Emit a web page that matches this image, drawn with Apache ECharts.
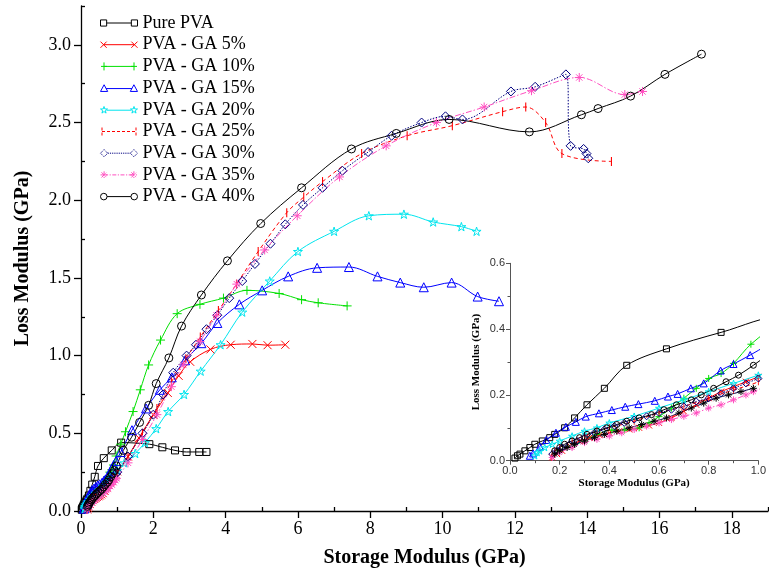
<!DOCTYPE html>
<html><head><meta charset="utf-8">
<script src="https://cdn.jsdelivr.net/npm/echarts@6/dist/echarts.min.js"></script>
<style>html,body{margin:0;padding:0;background:#fff}#c{width:769px;height:574px}</style>
</head><body><div id="c"></div>
<script>
// ---------- DATA (Storage Modulus GPa, Loss Modulus GPa) ----------
const seriesNames = ['Pure PVA','PVA - GA 5%','PVA - GA 10%','PVA - GA 15%','PVA - GA 20%','PVA - GA 25%','PVA - GA 30%','PVA - GA 35%','PVA - GA 40%'];

const purePVA = [[0.02,0.008],[0.03,0.015],[0.04,0.02],[0.06,0.03],[0.08,0.04],[0.1,0.05],[0.13,0.06],[0.16,0.07],[0.18,0.08],[0.22,0.1],[0.26,0.13],[0.31,0.17],[0.38,0.22],[0.47,0.29],[0.63,0.34],[0.85,0.39],[1.11,0.44],[1.89,0.43],[2.25,0.41],[2.6,0.39],[2.92,0.38],[3.27,0.38],[3.47,0.38]];

const ga5 = [[0.17,0.01],[0.19,0.02],[0.21,0.03],[0.24,0.045],[0.28,0.06],[0.32,0.07],[0.36,0.078],[0.4,0.085],[0.44,0.09],[0.48,0.095],[0.52,0.1],[0.56,0.107],[0.6,0.115],[0.65,0.13],[0.7,0.15],[0.75,0.17],[0.8,0.19],[0.85,0.21],[0.9,0.225],[0.95,0.24],[1.0,0.255],[1.3,0.35],[1.6,0.47],[2.0,0.62],[2.4,0.76],[2.7,0.87],[3.02,0.96],[3.58,1.04],[4.14,1.07],[4.74,1.075],[5.16,1.067],[5.65,1.07]];

const ga10 = [[0.2,0.03],[0.25,0.045],[0.3,0.06],[0.35,0.08],[0.41,0.093],[0.46,0.093],[0.52,0.1],[0.56,0.115],[0.6,0.134],[0.65,0.16],[0.7,0.19],[0.75,0.22],[0.8,0.25],[0.85,0.265],[0.9,0.296],[0.97,0.354],[1.1,0.43],[1.23,0.51],[1.44,0.64],[1.64,0.78],[1.87,0.94],[2.2,1.1],[2.66,1.27],[3.29,1.33],[3.94,1.37],[4.59,1.42],[5.48,1.4],[6.1,1.36],[6.56,1.34],[7.36,1.32]];

const ga15 = [[0.08,0.015],[0.093,0.022],[0.12,0.043],[0.146,0.063],[0.185,0.085],[0.225,0.103],[0.265,0.118],[0.305,0.134],[0.358,0.144],[0.41,0.154],[0.464,0.164],[0.517,0.172],[0.583,0.182],[0.636,0.195],[0.675,0.203],[0.728,0.22],[0.78,0.235],[0.848,0.274],[0.9,0.294],[0.967,0.321],[1.1,0.38],[1.41,0.52],[1.8,0.66],[2.18,0.78],[2.51,0.86],[2.88,0.97],[3.33,1.08],[3.77,1.21],[4.38,1.33],[5.01,1.42],[5.73,1.51],[6.53,1.565],[7.41,1.57],[8.2,1.51],[8.83,1.47],[9.48,1.44],[10.25,1.47],[10.97,1.38],[11.56,1.35]];

const ga20 = [[0.1,0.015],[0.11,0.025],[0.12,0.03],[0.14,0.04],[0.17,0.05],[0.2,0.06],[0.25,0.075],[0.3,0.09],[0.35,0.1],[0.4,0.115],[0.5,0.135],[0.6,0.16],[0.7,0.185],[0.8,0.21],[0.9,0.235],[1.0,0.26],[1.2,0.31],[1.5,0.37],[1.77,0.44],[2.08,0.53],[2.41,0.64],[2.85,0.75],[3.31,0.9],[3.86,1.07],[4.46,1.28],[5.22,1.48],[6.0,1.67],[7.0,1.8],[7.96,1.9],[8.93,1.91],[9.74,1.86],[10.52,1.83],[10.94,1.8]];

const ga25 = [[0.166,0.01],[0.17,0.02],[0.18,0.03],[0.2,0.04],[0.25,0.06],[0.3,0.075],[0.35,0.09],[0.4,0.1],[0.5,0.12],[0.6,0.145],[0.7,0.165],[0.8,0.19],[0.9,0.215],[1.0,0.24],[1.3,0.35],[1.7,0.5],[2.1,0.66],[2.5,0.83],[2.9,0.98],[3.3,1.12],[3.8,1.29],[4.3,1.46],[4.9,1.67],[5.69,1.92],[6.16,2.02],[6.68,2.12],[7.76,2.3],[9.02,2.415],[10.27,2.48],[11.66,2.57],[12.3,2.6],[12.85,2.5],[13.3,2.3],[14.67,2.25]];

const ga30 = [[0.17,0.02],[0.19,0.03],[0.21,0.04],[0.24,0.05],[0.27,0.06],[0.3,0.07],[0.34,0.085],[0.38,0.095],[0.42,0.105],[0.46,0.115],[0.5,0.125],[0.55,0.135],[0.6,0.145],[0.65,0.155],[0.7,0.165],[0.75,0.18],[0.8,0.19],[0.85,0.205],[0.9,0.22],[0.95,0.235],[1.0,0.25],[1.3,0.35],[1.7,0.5],[2.0,0.62],[2.27,0.75],[2.55,0.89],[2.92,1.0],[3.18,1.07],[3.47,1.17],[3.77,1.26],[4.1,1.37],[4.46,1.48],[4.81,1.59],[5.24,1.72],[5.65,1.845],[6.14,1.97],[6.68,2.08],[7.23,2.19],[7.94,2.31],[8.59,2.415],[9.42,2.5],[10.08,2.54],[10.55,2.52],[11.89,2.7],[12.56,2.73],[13.41,2.81],[13.54,2.35],[13.9,2.33],[13.98,2.3],[14.03,2.27]];

const ga35 = [[0.17,0.01],[0.2,0.025],[0.25,0.04],[0.3,0.055],[0.35,0.065],[0.4,0.075],[0.45,0.085],[0.5,0.095],[0.55,0.105],[0.6,0.115],[0.65,0.125],[0.7,0.135],[0.75,0.145],[0.8,0.16],[0.85,0.17],[0.9,0.185],[0.95,0.2],[0.98,0.21],[1.3,0.31],[1.7,0.46],[2.1,0.62],[2.5,0.8],[2.83,0.94],[3.29,1.09],[3.75,1.26],[4.31,1.46],[5.08,1.68],[5.98,1.9],[7.15,2.15],[8.44,2.35],[9.83,2.5],[11.15,2.6],[12.46,2.705],[13.78,2.79],[15.04,2.68],[15.53,2.7]];

const ga40 = [[0.18,0.03],[0.2,0.04],[0.22,0.05],[0.25,0.06],[0.28,0.07],[0.31,0.08],[0.35,0.09],[0.39,0.1],[0.43,0.11],[0.47,0.12],[0.52,0.13],[0.57,0.14],[0.62,0.155],[0.67,0.17],[0.73,0.185],[0.77,0.2],[0.82,0.22],[0.87,0.24],[0.92,0.26],[0.98,0.29],[1.17,0.39],[1.4,0.475],[1.62,0.57],[1.87,0.68],[2.08,0.82],[2.43,0.985],[2.78,1.19],[3.33,1.39],[4.05,1.61],[4.97,1.85],[6.1,2.08],[7.48,2.33],[8.72,2.43],[10.18,2.52],[12.4,2.44],[13.84,2.55],[14.3,2.59],[15.2,2.67],[16.15,2.81],[17.16,2.94]];

// additional curve visible only in the inset
const insetExtra = [[0.18,0.02],[0.2,0.03],[0.23,0.04],[0.26,0.05],[0.3,0.06],[0.34,0.07],[0.38,0.08],[0.43,0.09],[0.48,0.1],[0.53,0.11],[0.58,0.12],[0.63,0.13],[0.68,0.145],[0.73,0.16],[0.78,0.175],[0.83,0.19],[0.88,0.2],[0.93,0.21],[0.98,0.22]];

const xMajorTicks = [0,2,4,6,8,10,12,14,16,18];
const xMinorTicks = [1,3,5,7,9,11,13,15,17,19];
const yMajorTicks = [0,0.5,1.0,1.5,2.0,2.5,3.0];
const yMinorTicks = [0.25,0.75,1.25,1.75,2.25,2.75,3.25];

// ---------- STYLES ----------
const P_X = 'path://M0,0L10,10M0,10L10,0';
const P_PLUS = 'path://M5,0L5,10M0,5L10,5';
const P_STAR = 'path://M50,0L61,35L98,35L68,57L79,91L50,70L21,91L32,57L2,35L39,35Z';
const P_AST = 'path://M5,0L5,10M0,5L10,5M1.5,1.5L8.5,8.5M1.5,8.5L8.5,1.5';
const P_BAR = 'path://M0,0L1.2,0L1.2,10L0,10Z';
// legend icons: line with a marker at each end (36 x 7 box)
const starAt = (x)=>`M${x+3.5},0L${x+4.3},2.4L${x+6.9},2.4L${x+4.8},4L${x+5.5},6.4L${x+3.5},4.9L${x+1.5},6.4L${x+2.2},4L${x+0.1},2.4L${x+2.7},2.4Z`;
const L_ICONS = [
  'path://M0,1h6v6h-6zM30,1h6v6h-6zM6,4H30',
  'path://M0,1L6,7M0,7L6,1M30,1L36,7M30,7L36,1M3,4H33',
  'path://M3,0V8M0,4H6M33,0V8M30,4H36M3,4H33',
  'path://M0,7L3.5,0.5L7,7ZM29,7L32.5,0.5L36,7ZM5.3,4.2H30.7',
  'path://'+starAt(0)+starAt(29)+'M6,3.6H30',
  'path://M1,0V8M35,0V8M1,4H35',
  'path://M0,4L3.5,0.5L7,4L3.5,7.5ZM29,4L32.5,0.5L36,4L32.5,7.5ZM7,4H29',
  'path://M3.5,0.5V7.5M0,4H7M1,1.5L6,6.5M1,6.5L6,1.5M32.5,0.5V7.5M29,4H36M30,1.5L35,6.5M30,6.5L35,1.5M3.5,4H32.5',
  'path://M0,4A3.2,3.2 0 1,0 6.4,4A3.2,3.2 0 1,0 0,4ZM29.6,4A3.2,3.2 0 1,0 36,4A3.2,3.2 0 1,0 29.6,4ZM6.4,4H29.6'
];
const seriesData = [purePVA, ga5, ga10, ga15, ga20, ga25, ga30, ga35, ga40];
const looks = [
  {c:'#000000', sym:'rect', s:7, si:6, dash:'solid'},
  {c:'#ff0000', sym:P_X, s:8, si:6, dash:'solid'},
  {c:'#00e000', sym:P_PLUS, s:9, si:7, dash:'solid'},
  {c:'#0000ff', sym:'triangle', s:9, si:7, dash:'solid'},
  {c:'#00e5ee', sym:P_STAR, s:9, si:7, dash:'solid'},
  {c:'#ff0000', sym:P_BAR, s:9, si:7, dash:[4,3], filled:true},
  {c:'#000080', sym:'diamond', s:9, si:7, dash:[1.5,1.5]},
  {c:'#ff4fc0', sym:P_AST, s:9, si:7, dash:[6,2,1.5,2]},
  {c:'#000000', sym:'circle', s:8, si:6, dash:'solid'}
];

const serif = 'Liberation Serif, Times New Roman, serif';
const sans = 'Liberation Sans, Arial, sans-serif';

const series = [];
seriesNames.forEach((nm, i) => {
  const L = looks[i];
  const item = L.filled ? {color:L.c, borderWidth:0} : {color:'rgba(255,255,255,0)', borderColor:L.c, borderWidth:1};
  [0,1].forEach(g => {
    series.push({
      name:nm, type:'line', xAxisIndex:g===0?0:2, yAxisIndex:g===0?0:2,
      data:seriesData[i], smooth:0.35, clip:true,
      symbol:L.sym, symbolSize:g===0?L.s:L.si, symbolKeepAspect:true, showAllSymbol:true,
      lineStyle:{color:L.c, width:1, type:L.dash},
      itemStyle:item, color:L.c, z:g===0?3:4
    });
  });
});
series.push({
  name:'extra', type:'line', xAxisIndex:2, yAxisIndex:2, data:insetExtra, smooth:0.35, clip:true,
  symbol:P_AST, symbolSize:7, showAllSymbol:true,
  lineStyle:{color:'#000040', width:1}, itemStyle:{color:'rgba(0,0,0,0)', borderColor:'#000000', borderWidth:1}, z:4
});

const legendData = seriesNames.map((nm, i) => ({
  name:nm, icon:L_ICONS[i],
  itemStyle:{color:'rgba(255,255,255,0)', borderColor:looks[i].c, borderWidth:1,
             borderType: i===5 ? [3,2] : (i===6 ? [1.2,1] : (i===7 ? [4,1.5,1.2,1.5] : 'solid'))}
}));

const baseAxis = {
  axisLine:{show:true, onZero:false, lineStyle:{color:'#000', width:1.3}},
  splitLine:{show:false}
};

const option = {
  animation:false,
  backgroundColor:'#fff',
  legend:{
    data:legendData, orient:'vertical', left:95, top:9,
    itemWidth:37, itemHeight:8, itemGap:3.7, symbolKeepAspect:true,
    textStyle:{fontFamily:serif, fontSize:18, color:'#000', lineHeight:18}
  },
  grid:[
    {left:81, top:6, width:687, height:505},
    {left:510, top:263.3, width:251.7, height:197.4}
  ],
  xAxis:[
    Object.assign({}, baseAxis, {
      gridIndex:0, type:'value', min:0, max:19,
      name:'Storage Modulus (GPa)', nameLocation:'middle', nameGap:37,
      nameTextStyle:{fontFamily:serif, fontSize:20, fontWeight:'bold', color:'#000'},
      axisTick:{show:true, length:7, customValues:xMajorTicks, lineStyle:{color:'#000', width:1.3}},
      axisLabel:{customValues:xMajorTicks, fontFamily:serif, fontSize:18, color:'#000', margin:9}
    }),
    Object.assign({}, baseAxis, {
      gridIndex:0, type:'value', min:0, max:19, axisLine:{show:false},
      axisTick:{show:true, length:4, customValues:xMinorTicks, lineStyle:{color:'#000', width:1.3}},
      axisLabel:{show:false}
    }),
    {
      gridIndex:1, type:'value', min:0, max:1.0, interval:0.2,
      axisLine:{show:true, onZero:false, lineStyle:{color:'#555', width:1}},
      splitLine:{show:false},
      axisTick:{show:true, length:4, lineStyle:{color:'#555'}},
      minorTick:{show:true, splitNumber:2, length:2.5, lineStyle:{color:'#555'}},
      axisLabel:{fontFamily:sans, fontSize:11, color:'#333', margin:5, formatter:v=>v.toFixed(1)},
      name:'Storage Modulus (GPa)', nameLocation:'middle', nameGap:14,
      nameTextStyle:{fontFamily:serif, fontSize:11, fontWeight:'bold', color:'#000'}
    }
  ],
  yAxis:[
    Object.assign({}, baseAxis, {
      gridIndex:0, type:'value', min:0, max:3.25,
      name:'Loss Modulus (GPa)', nameLocation:'middle', nameGap:48,
      nameTextStyle:{fontFamily:serif, fontSize:20, fontWeight:'bold', color:'#000'},
      axisTick:{show:true, length:7, customValues:yMajorTicks, lineStyle:{color:'#000', width:1.3}},
      axisLabel:{customValues:yMajorTicks, fontFamily:serif, fontSize:18, color:'#000', margin:10, formatter:v=>v.toFixed(1)}
    }),
    Object.assign({}, baseAxis, {
      gridIndex:0, type:'value', min:0, max:3.25, axisLine:{show:false},
      axisTick:{show:true, length:4, customValues:yMinorTicks, lineStyle:{color:'#000', width:1.3}},
      axisLabel:{show:false}
    }),
    {
      gridIndex:1, type:'value', min:0, max:0.6, interval:0.2,
      axisLine:{show:true, onZero:false, lineStyle:{color:'#555', width:1}},
      splitLine:{show:false},
      axisTick:{show:true, length:4, lineStyle:{color:'#555'}},
      minorTick:{show:true, splitNumber:2, length:2.5, lineStyle:{color:'#555'}},
      axisLabel:{fontFamily:sans, fontSize:11, color:'#333', margin:5, formatter:v=>v.toFixed(1)},
      name:'Loss Modulus (GPa)', nameLocation:'middle', nameGap:28,
      nameTextStyle:{fontFamily:serif, fontSize:11, fontWeight:'bold', color:'#000'}
    }
  ],
  series:series
};
const chart = echarts.init(document.getElementById('c'), null, {renderer:'canvas'});
chart.setOption(option);
</script>
</body></html>
